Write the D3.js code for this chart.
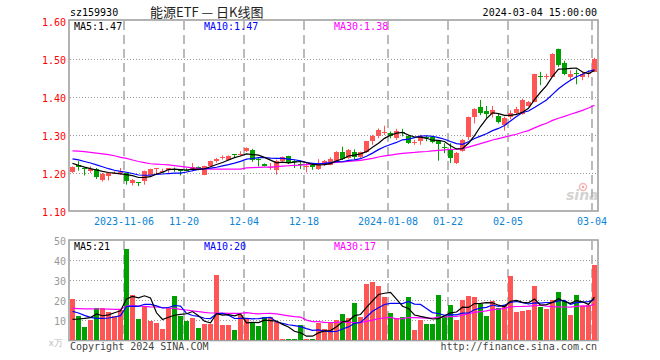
<!DOCTYPE html>
<html>
<head>
<meta charset="utf-8">
<script src="https://cdn.jsdelivr.net/npm/d3@7"></script>
<style>
  body { margin: 0; background: #fff; }
  text { font-family: 'DejaVu Sans Mono', monospace; }
</style>
</head>
<body>
<div id="chart"></div>
<script>
// Trading days shown on the chart
const dates = [
  '2023-10-24','2023-10-25','2023-10-26','2023-10-27','2023-10-30','2023-10-31',
  '2023-11-01','2023-11-02','2023-11-03','2023-11-06','2023-11-07','2023-11-08','2023-11-09','2023-11-10',
  '2023-11-13','2023-11-14','2023-11-15','2023-11-16','2023-11-17','2023-11-20','2023-11-21','2023-11-22',
  '2023-11-23','2023-11-24','2023-11-27','2023-11-28','2023-11-29','2023-11-30',
  '2023-12-01','2023-12-04','2023-12-05','2023-12-06','2023-12-07','2023-12-08','2023-12-11','2023-12-12',
  '2023-12-13','2023-12-14','2023-12-15','2023-12-18','2023-12-19','2023-12-20','2023-12-21','2023-12-22',
  '2023-12-25','2023-12-26','2023-12-27','2023-12-28','2023-12-29',
  '2024-01-02','2024-01-03','2024-01-04','2024-01-05','2024-01-08','2024-01-09','2024-01-10','2024-01-11',
  '2024-01-12','2024-01-15','2024-01-16','2024-01-17','2024-01-18','2024-01-19','2024-01-22','2024-01-23',
  '2024-01-24','2024-01-25','2024-01-26','2024-01-29','2024-01-30','2024-01-31',
  '2024-02-01','2024-02-02','2024-02-05','2024-02-06','2024-02-07','2024-02-08','2024-02-19','2024-02-20',
  '2024-02-21','2024-02-22','2024-02-23','2024-02-26','2024-02-27','2024-02-28','2024-02-29',
  '2024-03-01','2024-03-04'
];

const opens = [
  1.201,1.220,1.213,1.203,1.210,1.179,1.190,1.199,1.199,1.199,
  1.172,1.175,1.177,1.194,1.212,1.201,1.206,1.210,1.209,1.207,
  1.207,1.215,1.194,1.216,1.230,1.240,1.234,1.248,1.249,1.256,
  1.260,1.236,1.222,1.213,1.207,1.229,1.244,1.230,1.223,1.215,
  1.220,1.210,1.219,1.220,1.227,1.254,1.238,1.254,1.242,1.254,
  1.282,1.296,1.305,1.305,1.290,1.307,1.295,1.279,1.284,1.293,
  1.293,1.282,1.266,1.260,1.225,1.257,1.293,1.345,1.373,1.363,
  1.354,1.349,1.325,1.345,1.357,1.354,1.375,1.386,1.454,1.453,
  1.452,1.526,1.487,1.452,1.461,1.452,1.461,1.465
];
const highs = [
  1.216,1.230,1.213,1.216,1.212,1.199,1.200,1.203,1.212,1.199,
  1.183,1.175,1.205,1.210,1.212,1.210,1.212,1.213,1.209,1.211,
  1.225,1.216,1.218,1.231,1.238,1.245,1.245,1.248,1.256,1.266,
  1.262,1.239,1.224,1.225,1.234,1.242,1.244,1.234,1.227,1.225,
  1.221,1.235,1.233,1.240,1.256,1.268,1.262,1.261,1.255,1.283,
  1.299,1.316,1.323,1.308,1.315,1.315,1.299,1.286,1.299,1.297,
  1.294,1.282,1.277,1.277,1.254,1.288,1.347,1.369,1.391,1.375,
  1.375,1.354,1.347,1.364,1.373,1.394,1.388,1.460,1.465,1.460,
  1.514,1.526,1.494,1.469,1.471,1.465,1.469,1.502
];
const lows = [
  1.199,1.205,1.192,1.199,1.183,1.176,1.179,1.196,1.194,1.168,
  1.166,1.164,1.168,1.192,1.194,1.199,1.199,1.202,1.192,1.203,
  1.203,1.206,1.193,1.214,1.226,1.234,1.232,1.239,1.243,1.254,
  1.228,1.216,1.216,1.207,1.194,1.228,1.222,1.212,1.209,1.200,
  1.207,1.207,1.217,1.219,1.225,1.233,1.236,1.234,1.238,1.252,
  1.273,1.290,1.299,1.290,1.286,1.295,1.275,1.273,1.273,1.282,
  1.277,1.231,1.251,1.225,1.222,1.255,1.286,1.329,1.351,1.343,
  1.345,1.329,1.310,1.340,1.354,1.352,1.373,1.385,1.430,1.445,
  1.451,1.478,1.456,1.441,1.432,1.443,1.450,1.464
];
const closes = [
  1.214,1.214,1.209,1.209,1.187,1.196,1.199,1.200,1.201,1.177,
  1.181,1.175,1.203,1.209,1.212,1.203,1.212,1.209,1.203,1.206,
  1.214,1.210,1.216,1.229,1.236,1.241,1.243,1.247,1.250,1.264,
  1.232,1.235,1.218,1.214,1.229,1.240,1.225,1.229,1.222,1.216,
  1.214,1.220,1.231,1.236,1.254,1.236,1.260,1.242,1.254,1.282,
  1.295,1.312,1.306,1.296,1.308,1.306,1.277,1.280,1.295,1.292,
  1.281,1.275,1.265,1.238,1.251,1.286,1.345,1.366,1.357,1.354,
  1.364,1.334,1.343,1.357,1.366,1.392,1.386,1.459,1.453,1.454,
  1.513,1.482,1.460,1.460,1.460,1.460,1.462,1.500
];
// volume, 10k lots
const volumes = [
  20.5,12,6.5,10.2,16,16,14,12,15,45.5,
  22.5,10.5,17,9.7,8.3,5.7,16.2,22,12,9.7,
  11.2,6,8,8,32.5,7.5,7.5,5,12.5,10.3,
  8.7,7,11.3,11.3,9,0.5,0.5,0.5,7.5,0.5,
  0.5,8.7,5.5,8.3,10,13,11,18.5,11.3,28,
  29,27,21.5,13.5,11,11.5,21.5,5,10,8,
  8,22.5,12,17.5,10,20,22,21.5,18,12,
  19.5,16,17.5,32,14,14.5,15,27,16.5,15.5,
  20,24,19.5,12.5,22.5,17,17.5,37.5
];

const priceMa5Lead = [1.224,1.219,1.214,1.210];
const priceMa10Lead = [1.236,1.233,1.229,1.225,1.220,1.215,1.210,1.206,1.203];
const priceMa30Lead = [1.257,1.256,1.255,1.253,1.251,1.249,1.247,1.244,1.240,1.237,
  1.233,1.229,1.226,1.223,1.222,1.221,1.220,1.218,1.216,1.214,
  1.212,1.211,1.210,1.209,1.209,1.209,1.209,1.209,1.209];
const volMa5Lead = [10.3,10.5,10.8,11.2];
const volMa10Lead = [14.3,13.5,12.3,11.3,10.8,10.8,11.0,11.5,12.2];
const volMa30Lead = [15.8,15.7,15.6,15.6,15.5,15.5,15.4,15.3,15.3,17.0,
  17.2,17.0,16.8,16.6,16.5,16.2,16.0,15.8,15.3,15.0,
  14.6,14.2,13.8,13.5,13.5,13.4,13.3,13.3,13.3];

const tickDates = ['2023-11-06','2023-11-20','2023-12-04','2023-12-18','2024-01-08','2024-01-22','2024-02-05','2024-03-04'];
const tickLabels = ['2023-11-06','11-20','12-04','12-18','2024-01-08','01-22','02-05','03-04'];
const priceTicks = [1.10,1.20,1.30,1.40,1.50,1.60];
const volTicks = [10,20,30,40,50];

const width = 660, height = 360;
const left = 70, right = 598;
const red = '#ff5555', green = '#00a000';

function movingAvg(values, n, lead) {
  return values.map((v, i) => {
    if (i < n - 1) return lead[i];
    return d3.mean(values.slice(i - n + 1, i + 1));
  });
}

function isUp(i) {
  if (closes[i] > opens[i]) return true;
  if (closes[i] < opens[i]) return false;
  return i === 0 ? true : closes[i] >= closes[i - 1];
}

const svg = d3.select('#chart').append('svg')
  .attr('width', width)
  .attr('height', height);

const x = d3.scaleBand().domain(dates).range([left, right]);
const yP = d3.scaleLinear().domain([1.10, 1.60]).range([210.5, 20.5]);
const yV = d3.scaleLinear().domain([0, 50]).range([340, 240]);
const cx = d => x(d) + 2.5;

// header texts
svg.append('text').attr('x', 70).attr('y', 16).attr('font-size', '10px').attr('fill', '#000').text('sz159930');
svg.append('text').attr('x', 150).attr('y', 17)
  .style('font-family', "'Noto Sans CJK SC', sans-serif")
  .attr('font-size', '13px').attr('fill', '#222').text('能源ETF — 日K线图');
svg.append('text').attr('x', 597).attr('y', 16).attr('text-anchor', 'end')
  .attr('font-size', '10px').attr('fill', '#000').text('2024-03-04 15:00:00');

function panel(yScale, top, bottom, gridTicks) {
  const g = svg.append('g');
  // horizontal dotted grid
  g.selectAll('line.h').data(gridTicks).enter().append('line')
    .attr('x1', left).attr('x2', right)
    .attr('y1', d => Math.round(yScale(d)) + 0.5).attr('y2', d => Math.round(yScale(d)) + 0.5)
    .attr('stroke', '#999').attr('stroke-dasharray', '1,2')
    .attr('shape-rendering', 'crispEdges');
  // vertical dashed grid at date ticks
  g.selectAll('line.v').data(tickDates).enter().append('line')
    .attr('x1', d => x(d)).attr('x2', d => x(d))
    .attr('y1', top).attr('y2', bottom)
    .attr('stroke', '#aaa').attr('stroke-width', 1.6).attr('stroke-dasharray', '9,5');
  return g;
}

// price panel
panel(yP, 21, 210, [1.20, 1.30, 1.40, 1.50]);
svg.append('rect').attr('x', left - 1).attr('y', 20).attr('width', right - left + 1).attr('height', 191)
  .attr('fill', 'none').attr('stroke', '#a0a0a0').attr('stroke-width', 1.6);

svg.selectAll('text.pl').data(priceTicks).enter().append('text')
  .attr('x', 66).attr('y', d => yP(d) + 5).attr('text-anchor', 'end')
  .attr('font-size', '10px').attr('fill', '#ff0000')
  .text(d => d.toFixed(2));

tickDates.forEach((d, k) => {
  svg.append('text').attr('x', x(d)).attr('y', 225).attr('text-anchor', 'middle')
    .attr('font-size', '10px').attr('fill', '#0a84d6').text(tickLabels[k]);
});

// sina watermark
const logo = svg.append('g').attr('opacity', 0.55);
logo.append('circle').attr('cx', 583).attr('cy', 187).attr('r', 3.5).attr('fill', 'none').attr('stroke', '#f08080').attr('stroke-width', 1.5);
logo.append('circle').attr('cx', 583).attr('cy', 187).attr('r', 1.3).attr('fill', '#e06060');
logo.append('text').attr('x', 566).attr('y', 200).attr('font-size', '14px').attr('font-weight', 'bold')
  .attr('font-style', 'italic').style('font-family', "'DejaVu Sans', sans-serif").attr('fill', '#b0b0b0').text('sina');

// candles
const candles = svg.append('g').selectAll('g').data(dates).enter().append('g');
candles.append('line')
  .attr('x1', d => cx(d)).attr('x2', d => cx(d))
  .attr('y1', (d, i) => yP(highs[i])).attr('y2', (d, i) => yP(lows[i]))
  .attr('stroke', (d, i) => isUp(i) ? red : green).attr('stroke-width', 1);
candles.append('rect')
  .attr('x', d => x(d)).attr('width', 5)
  .attr('y', (d, i) => yP(Math.max(opens[i], closes[i])))
  .attr('height', (d, i) => Math.max(1, Math.abs(yP(opens[i]) - yP(closes[i]))))
  .attr('fill', (d, i) => isUp(i) ? red : green)
  .attr('shape-rendering', 'crispEdges');

// price moving averages
const pMa5 = movingAvg(closes, 5, priceMa5Lead);
const pMa10 = movingAvg(closes, 10, priceMa10Lead);
const pMa30 = movingAvg(closes, 30, priceMa30Lead);
const pLine = d3.line().x((v, i) => cx(dates[i])).y(v => yP(v));
[[pMa30, '#ff00ff'], [pMa10, '#0000ff'], [pMa5, '#000']].forEach(([vals, c]) => {
  svg.append('path').attr('d', pLine(vals)).attr('fill', 'none').attr('stroke', c).attr('stroke-width', 1.2);
});

const last = dates.length - 1;
svg.append('text').attr('x', 74).attr('y', 30).attr('font-size', '10px').attr('fill', '#000').text('MA5:' + pMa5[last].toFixed(2));
svg.append('text').attr('x', 204).attr('y', 30).attr('font-size', '10px').attr('fill', '#0000ff').text('MA10:' + pMa10[last].toFixed(2));
svg.append('text').attr('x', 334).attr('y', 30).attr('font-size', '10px').attr('fill', '#ff00ff').text('MA30:' + pMa30[last].toFixed(2));

// volume panel
panel(yV, 241, 340, [10, 20, 30, 40]);
svg.append('rect').attr('x', left - 1).attr('y', 240).attr('width', right - left + 1).attr('height', 100.5)
  .attr('fill', 'none').attr('stroke', '#a0a0a0').attr('stroke-width', 1.6);

svg.selectAll('text.vl').data(volTicks).enter().append('text')
  .attr('x', 66).attr('y', d => yV(d) + 5).attr('text-anchor', 'end')
  .attr('font-size', '10px').attr('fill', '#999')
  .text(d => d);
svg.append('text').attr('x', 63).attr('y', 346).attr('text-anchor', 'end')
  .attr('font-size', '9px').attr('fill', '#bbb').text('x万');

svg.append('g').selectAll('rect').data(dates).enter().append('rect')
  .attr('x', d => x(d)).attr('width', 5)
  .attr('y', (d, i) => yV(volumes[i]))
  .attr('height', (d, i) => Math.max(1, yV(0) - yV(volumes[i])))
  .attr('fill', (d, i) => isUp(i) ? red : green)
  .attr('shape-rendering', 'crispEdges');

const vMa5 = movingAvg(volumes, 5, volMa5Lead);
const vMa10 = movingAvg(volumes, 10, volMa10Lead);
const vMa30 = movingAvg(volumes, 30, volMa30Lead);
const vLine = d3.line().x((v, i) => cx(dates[i])).y(v => yV(v));
[[vMa30, '#ff00ff'], [vMa10, '#0000ff'], [vMa5, '#000']].forEach(([vals, c]) => {
  svg.append('path').attr('d', vLine(vals)).attr('fill', 'none').attr('stroke', c).attr('stroke-width', 1.2);
});

svg.append('text').attr('x', 74).attr('y', 250).attr('font-size', '10px').attr('fill', '#000').text('MA5:' + Math.floor(vMa5[last]));
svg.append('text').attr('x', 204).attr('y', 250).attr('font-size', '10px').attr('fill', '#0000ff').text('MA10:' + Math.floor(vMa10[last]));
svg.append('text').attr('x', 334).attr('y', 250).attr('font-size', '10px').attr('fill', '#ff00ff').text('MA30:' + Math.floor(vMa30[last]));

// footer
svg.append('text').attr('x', 70).attr('y', 350).attr('font-size', '10px').attr('fill', '#444').text('Copyright 2024 SINA.COM');
svg.append('text').attr('x', 597).attr('y', 350).attr('text-anchor', 'end')
  .attr('font-size', '10px').attr('fill', '#444').text('http://finance.sina.com.cn');
</script>
</body>
</html>
